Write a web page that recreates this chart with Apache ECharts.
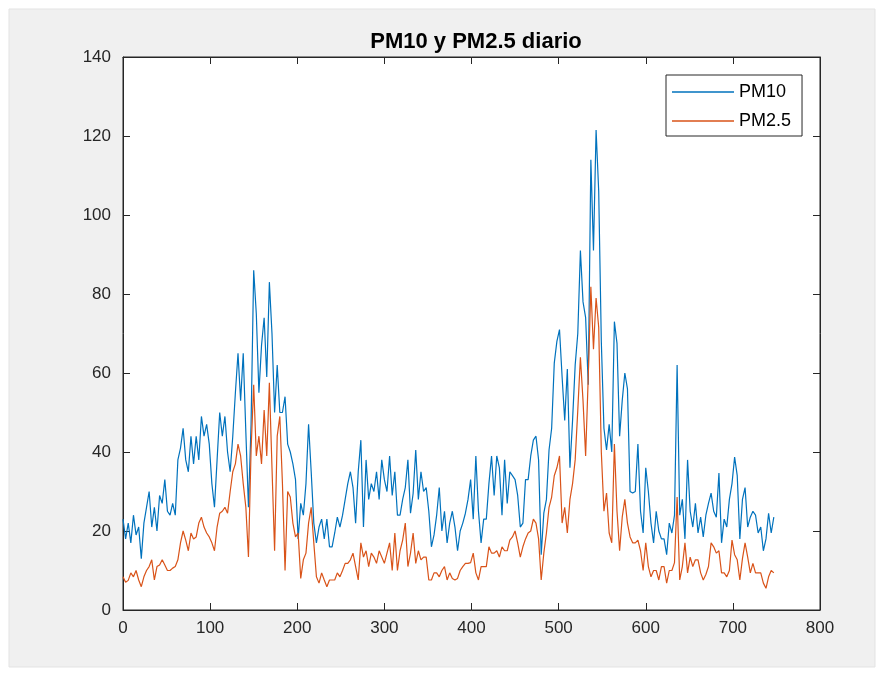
<!DOCTYPE html>
<html>
<head>
<meta charset="utf-8">
<script src="https://cdn.jsdelivr.net/npm/echarts@6/dist/echarts.min.js"></script>
<style>
html,body{margin:0;padding:0;background:#ffffff;}
#chart{width:882px;height:673px;}
</style>
</head>
<body>
<div id="chart"></div>
<script>
// Sampled every 3 days (day 0, 3, 6, ... 747)
const dayStep = 3;
const PM10 = [
23,18,22,17,24,19,21,13,22,26,
30,21,26,20,29,27,33,25,24,27,
24,38,41,46,38,35,44,37,44,38,
49,44,47,42,32,26,38,50,44,49,
40,35,44,55,65,53,65,45,26,47,
86,75,55,67,74,59,83,70,50,62,
50,50,54,42,40,37,33,18,27,24,
32,47,35,22,17,21,23,18,23,16,
16,19.5,23.5,21,24,28,32,35,31,22,
35,43,21,38,28,32,30,35,28,38,
33,30,39,29,35,24,24,28,31,38,
24.5,29.5,40.5,28,35,30,31,25,16,19,
24,31,20,25,17,22,25,21,15,20,
22,24.5,28,33,23,39,25,17,23,23,
32,39,29,39,36,24,38,27,35,34,
33,29,21,22,33,33,39,43,44,38,
14,24.5,28,40.5,46,62.5,68,71,59,48,
61,36,48,62,70,91,78,74,57,114,
91,121.5,106,68,46,40.5,47,40,73,67.5,
44,53,60,56,30,29.6,30,42,25,19.5,
36,30,22,17,25,20,18,18,14,22,
19.5,24,62,24,28,18,38,25,21,27,
19.5,23.5,18.5,24,27,29.6,25,23.5,34.7,17,
23,21,28,32,38.7,34,18,28,31,21,
23.5,25,24,19.5,21,15,18,24.5,19.5,23.5
];
const PM25 = [
8.4,7,7.5,9.4,8.4,10,7.6,5.9,8.4,10,
11,12.7,7.6,11,11.4,12.7,11.4,10,10,10.6,
11,12.7,17,20,17.7,15,19.5,18,18.5,22,
23.5,21,19.5,18.5,17,15,21,24.5,25,26,
24.5,30,35,37,42,39,32,26,13.4,40.5,
57,39,44,37,50.6,39,57.5,36,15,44,
49,32,10,30,28.6,22,18.5,19.5,8,12.7,
14.4,22,26,17,8.4,6.8,9.4,7.6,5.9,7.6,
7.6,7.6,9.4,8.4,10,11.8,11.8,12.7,14.4,11,
7.6,17,13.4,15,11,14.4,13.4,11.8,15,13.4,
11.8,14.4,17,10,19.5,10,15,17.7,22,11,
14.4,19.5,11.8,15,12.7,13.4,13.4,7.6,7.6,9.4,
9.4,8.4,10,11,7.6,9.4,8,7.6,8,10,
11,11.8,11.8,12,14.4,9.4,7.6,11,11,11,
16,14.4,14.4,15,13.4,16,15,15,17.7,18.5,
20,17,13.4,16,18,19.5,20,23,22,18,
7.6,14.4,19.5,26,28.6,34,36,39,22,26,
19.5,28,32,38,50.6,64,53,39,59,81.8,
66,79,71.6,40,25,29.6,19.5,17,42,25,
15,23.5,28,22,18.5,17,17,17.7,15,10,
17,11,8.4,10,10,7.6,11,11,6.8,10,
10,12,28.6,7.6,11,17,9.4,13.4,11,12.7,
12.7,9.4,7.6,9,11,17,16,14.4,15,9.4,
9.4,8.4,10,17.7,14,12.7,7.6,13,17,13.4,
9.4,11.8,9.4,9.4,9.4,6.8,5.5,8.4,10,9.4
];
const seriesNames = ['PM10', 'PM2.5'];
const xTicks = {min: 0, max: 800, interval: 100};
const yTicks = {min: 0, max: 140, interval: 20};
const titleText = 'PM10 y PM2.5 diario';

const toPairs = arr => arr.map((v, i) => [i * dayStep, v]);
const axisColor = '#262626';
const font = 'Arial, "Liberation Sans", Helvetica, sans-serif';

const chart = echarts.init(document.getElementById('chart'), null, {renderer: 'canvas'});
const baseAxis = (pos, ticks, showLabel, margin) => ({
  type: 'value', position: pos, min: ticks.min, max: ticks.max, interval: ticks.interval,
  axisLine: {show: true, onZero: false, lineStyle: {color: axisColor, width: 1}},
  axisTick: {show: true, inside: true, length: 7, lineStyle: {color: axisColor, width: 1}},
  axisLabel: {show: showLabel, color: axisColor, fontSize: 17, fontFamily: font, margin: margin},
  splitLine: {show: false}
});
chart.setOption({
  animation: false,
  backgroundColor: '#ffffff',
  graphic: [{
    type: 'rect', z: -10, silent: true,
    shape: {x: 9, y: 9, width: 866, height: 658},
    style: {fill: '#f0f0f0', stroke: '#e3e3e3', lineWidth: 1}
  }],
  title: {
    text: titleText, left: 471, top: 26, textAlign: 'center',
    textStyle: {fontSize: 22, fontWeight: 'bold', color: '#000', fontFamily: font}
  },
  grid: {left: 123, right: 62, top: 57, bottom: 63, show: true, backgroundColor: '#ffffff', borderColor: axisColor, borderWidth: 1},
  xAxis: [baseAxis('bottom', xTicks, true, 10), baseAxis('top', xTicks, false, 8)],
  yAxis: [baseAxis('left', yTicks, true, 12), baseAxis('right', yTicks, false, 8)],
  legend: {
    orient: 'vertical', left: 666, top: 75,
    icon: 'rect', itemWidth: 62, itemHeight: 1.6, itemGap: 11,
    padding: [8, 11, 6, 6],
    backgroundColor: '#ffffff', borderColor: axisColor, borderWidth: 1,
    textStyle: {fontSize: 18, color: '#000', fontFamily: font, lineHeight: 16},
    data: seriesNames
  },
  series: [
    {name: seriesNames[0], type: 'line', data: toPairs(PM10), symbol: 'none', color: '#0072BD', lineStyle: {width: 1.2, color: '#0072BD'}},
    {name: seriesNames[1], type: 'line', data: toPairs(PM25), symbol: 'none', color: '#D95319', lineStyle: {width: 1.2, color: '#D95319'}}
  ]
});
</script>
</body>
</html>
